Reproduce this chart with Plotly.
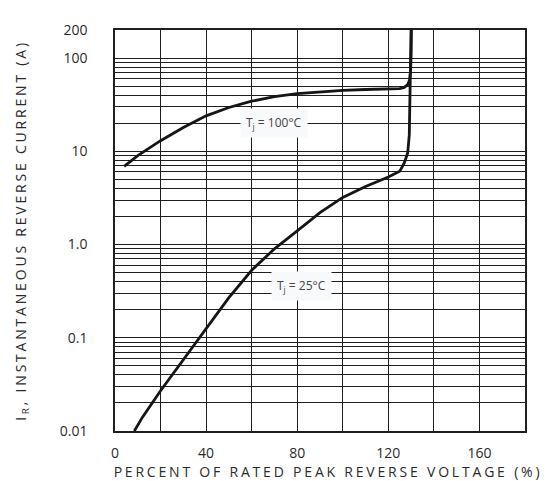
import numpy as np
import plotly.graph_objects as go

# Percent of rated peak reverse voltage (%)
x_100 = [4, 10, 20, 30, 40, 50, 60, 70, 80, 90, 100, 110, 120, 125, 127, 128.5, 129.3, 129.8, 130.0, 130.1]
y_100 = [6.9, 9.0, 13.0, 18.0, 24.0, 29.5, 34.5, 38.5, 41.5, 43.5, 45.0, 46.0, 46.5, 47.0, 48.5, 52.0, 58.0, 75.0, 110.0, 200.0]

x_25 = [8.5, 12, 20, 30, 40, 50, 60, 70, 80, 90, 100, 110, 120, 125, 127, 128.5, 129.2, 129.5, 129.8, 130.0]
y_25 = [0.01, 0.014, 0.027, 0.058, 0.125, 0.27, 0.53, 0.9, 1.4, 2.2, 3.2, 4.2, 5.3, 6.1, 7.5, 9.6, 15.0, 40.0, 120.0, 200.0]

y_tickvals = [0.01, 0.1, 1, 10, 100, 200]
y_ticktext = ["0.01", "0.1", "1.0", "10", "100", "200"]
x_tickvals = [0, 40, 80, 120, 160]
x_gridvals = [20, 60, 100, 140, 180]
y_minor = [m * d for d in [0.01, 0.1, 1, 10] for m in range(2, 10)]

labels = [
    dict(text="T<sub>j</sub> = 100°C", x=70, y=20.3),
    dict(text="T<sub>j</sub> = 25°C", x=82, y=0.355),
]

FONT = "Open Sans"
TXT = "#2a2a2a"
GRID = "#1e1e1e"

fig = go.Figure()
fig.add_trace(go.Scatter(x=x_100, y=y_100, mode="lines",
                         line=dict(color="#151515", width=2.8), showlegend=False))
fig.add_trace(go.Scatter(x=x_25, y=y_25, mode="lines",
                         line=dict(color="#151515", width=2.8), showlegend=False))

for lb in labels:
    fig.add_annotation(x=lb["x"], y=np.log10(lb["y"]), text=lb["text"], showarrow=False,
                       font=dict(family=FONT, size=12, color="#444"),
                       bgcolor="#f8f9fb", borderpad=5)

fig.update_layout(
    width=548, height=481,
    margin=dict(l=107, r=31, t=15, b=58),
    paper_bgcolor="white", plot_bgcolor="white",
    font=dict(family=FONT, color=TXT),
    xaxis=dict(
        range=[0, 180], tickmode="array", tickvals=x_tickvals,
        showgrid=True, gridcolor=GRID, gridwidth=1.3,
        minor=dict(tickmode="array", tickvals=x_gridvals, showgrid=True,
                   gridcolor=GRID, gridwidth=1.3, ticks=""),
        showline=True, linecolor=GRID, linewidth=1.5, mirror=True,
        ticks="", ticklabelstandoff=8, zeroline=False,
        tickfont=dict(family=FONT, size=14, color=TXT),
        title=dict(text="PERCENT OF RATED PEAK REVERSE VOLTAGE (%)",
                   font=dict(family=FONT, size=14, color=TXT), standoff=6),
    ),
    yaxis=dict(
        type="log", range=[-2, np.log10(200)],
        tickmode="array", tickvals=y_tickvals, ticktext=y_ticktext,
        showgrid=True, gridcolor=GRID, gridwidth=1.3,
        minor=dict(tickmode="array", tickvals=y_minor, showgrid=True,
                   gridcolor=GRID, gridwidth=1.3, ticks=""),
        showline=True, linecolor=GRID, linewidth=1.5, mirror=True,
        ticks="", ticklabelstandoff=23, zeroline=False,
        tickfont=dict(family=FONT, size=14, color=TXT),
        title=dict(text="I<sub>R</sub>, INSTANTANEOUS REVERSE CURRENT (A)",
                   font=dict(family=FONT, size=14, color=TXT), standoff=30),
    ),
)

post = ("document.querySelectorAll('.xtitle, .ytitle').forEach(function(t){"
        "t.style.letterSpacing='2.8px';});"
        "var xt=document.querySelector('.xtitle');"
        "if(xt){xt.setAttribute('transform','translate(8,0)');}")
fig.write_html("out.html", post_script=post)
